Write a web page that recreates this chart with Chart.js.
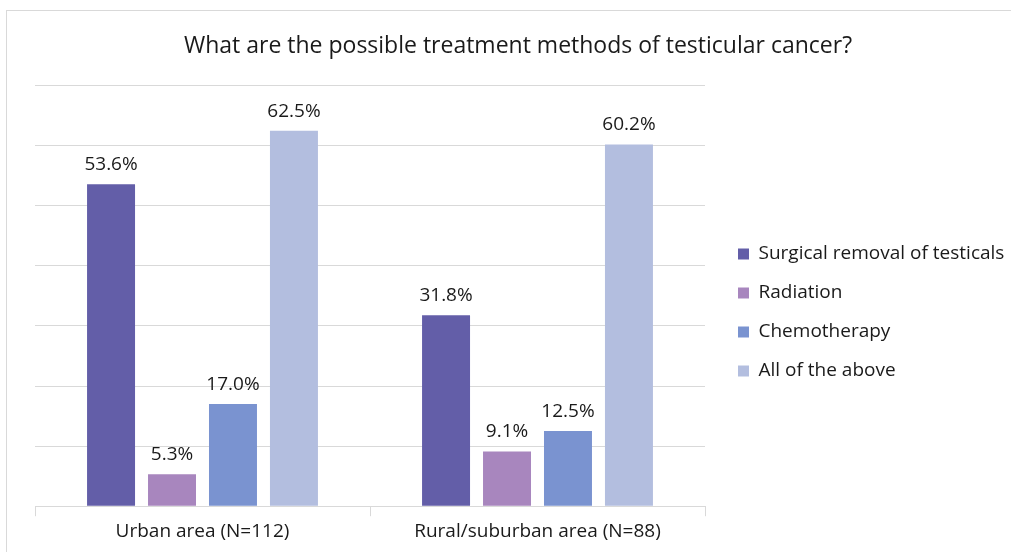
<!DOCTYPE html>
<html>
<head>
<meta charset="utf-8">
<script src="https://cdn.jsdelivr.net/npm/chart.js@4"></script>
<style>
  html, body { margin: 0; padding: 0; background: #fff; }
  #frame { position: absolute; left: 6px; top: 10px; width: 1020px; height: 560px; border: 1px solid #d9d9d9; box-sizing: border-box; }
  #wrap { position: absolute; left: 0; top: 0; width: 1011px; height: 552px; }
</style>
</head>
<body>
<div id="frame"></div>
<div id="wrap"><canvas id="treatChart"></canvas></div>
<script>
// chart data
const categories = ['Urban area (N=112)', 'Rural/suburban area (N=88)'];
const surgicalValues = [53.6, 31.8];
const radiationValues = [5.3, 9.1];
const chemoValues = [17.0, 12.5];
const allAboveValues = [62.5, 60.2];

const FONT = '"Open Sans", sans-serif';

// draw the percent labels above each bar
const valueLabels = {
    id: 'valueLabels',
    afterDatasetsDraw(chart) {
        const ctx = chart.ctx;
        ctx.save();
        ctx.font = '19px ' + FONT;
        ctx.fillStyle = '#1a1a1a';
        ctx.textAlign = 'center';
        ctx.textBaseline = 'bottom';
        chart.data.datasets.forEach((ds, i) => {
            chart.getDatasetMeta(i).data.forEach((bar, j) => {
                ctx.fillText(ds.data[j].toFixed(1) + '%', bar.x, bar.y - 10);
            });
        });
        ctx.restore();
    }
};

// legend and title boxes get squeezed by the layout, so move them after it runs
const placeBoxes = {
    id: 'placeBoxes',
    afterLayout(chart) {
        const lg = chart.legend;
        lg.left = 718;
        lg.right = 1011;
        lg.width = lg.right - lg.left;
        lg.top += 39;
        lg.bottom += 39;

        const t = chart.titleBlock;
        t.left = 35;
        t.right = 1001;
        t.width = t.right - t.left;
    }
};

new Chart(document.getElementById('treatChart'), {
    type: 'bar',
    data: {
        labels: categories,
        datasets: [
            { label: 'Surgical removal of testicals', data: surgicalValues, backgroundColor: '#635ea8' },
            { label: 'Radiation', data: radiationValues, backgroundColor: '#a886be' },
            { label: 'Chemotherapy', data: chemoValues, backgroundColor: '#7a93d0' },
            { label: 'All of the above', data: allAboveValues, backgroundColor: '#b3bedf' }
        ]
    },
    options: {
        responsive: true,
        maintainAspectRatio: false,
        animation: false,
        categoryPercentage: 0.728,
        barPercentage: 0.787,
        layout: { padding: { left: 35, right: 106, top: 0, bottom: 5 } },
        plugins: {
            title: {
                display: true,
                text: 'What are the possible treatment methods of testicular cancer?',
                color: '#1a1a1a',
                font: { family: FONT, size: 23, weight: 'normal' },
                padding: { top: 33, bottom: 25 }
            },
            legend: {
                position: 'right',
                maxWidth: 200,
                labels: {
                    color: '#1a1a1a',
                    font: { family: FONT, size: 19 },
                    boxWidth: 11,
                    boxHeight: 11,
                    padding: 20
                }
            },
            tooltip: { enabled: false }
        },
        scales: {
            x: {
                grid: { drawOnChartArea: false, drawTicks: true, tickLength: 10, color: '#d9d9d9' },
                border: { display: true, color: '#d9d9d9' },
                ticks: { color: '#1a1a1a', font: { family: FONT, size: 19 }, padding: 4 }
            },
            y: {
                min: 0,
                max: 70,
                ticks: { display: false, stepSize: 10 },
                grid: { color: '#d9d9d9', drawTicks: false },
                border: { display: false }
            }
        }
    },
    plugins: [valueLabels, placeBoxes]
});
</script>
</body>
</html>
